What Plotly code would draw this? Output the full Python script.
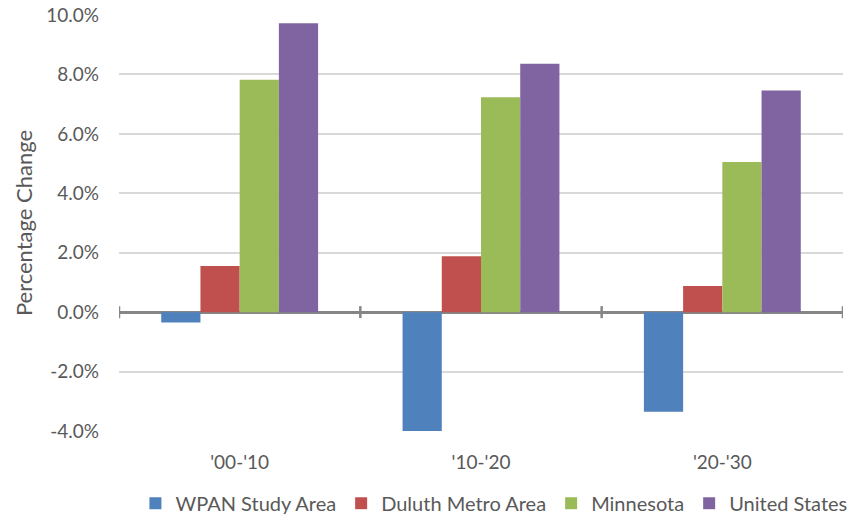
import plotly.graph_objects as go

categories = ["'00-'10", "'10-'20", "'20-'30"]
series_names = ["WPAN Study Area", "Duluth Metro Area", "Minnesota", "United States"]
wpan = [-0.0035, -0.0408, -0.0335]
duluth = [0.0155, 0.0188, 0.0088]
minnesota = [0.0782, 0.0723, 0.0505]
united_states = [0.0972, 0.0836, 0.0746]
y_ticks = [-0.04, -0.02, 0.0, 0.02, 0.04, 0.06, 0.08, 0.10]
y_tick_labels = [f"{v * 100:.1f}%" for v in y_ticks]

colors = ["#4F81BD", "#C0504D", "#9BBB59", "#8064A2"]
series_values = [wpan, duluth, minnesota, united_states]

FONT = "Lato"
TXT = "#595959"

fig = go.Figure()
for name, vals, col in zip(series_names, series_values, colors):
    fig.add_trace(go.Bar(x=categories, y=vals, name=name, marker_color=col,
                         marker_line_width=0))

# category boundary tick marks on the zero axis line
shapes = []
for i in range(len(categories) + 1):
    shapes.append(dict(type="line", xref="x", yref="y", x0=i - 0.5, x1=i - 0.5,
                       ysizemode="pixel", yanchor=0, y0=-6, y1=6,
                       line=dict(color="#868686", width=2.5)))

fig.update_layout(
    width=859, height=514,
    margin=dict(l=119, r=16, t=15, b=83, autoexpand=False),
    paper_bgcolor="white", plot_bgcolor="white",
    barmode="group", bargap=0.35, bargroupgap=0,
    font=dict(family=FONT, size=19, color=TXT),
    shapes=shapes,
    legend=dict(orientation="h", xref="container", yref="container",
                x=0.575, xanchor="center", y=0.021, yanchor="middle",
                font=dict(size=20, color=TXT), itemwidth=30, tracegroupgap=0,
                bgcolor="rgba(0,0,0,0)"),
    xaxis=dict(type="category", range=[-0.5, 2.5], showline=False, showgrid=False,
               ticks="", tickfont=dict(size=19, color=TXT), ticklabelstandoff=18,
               automargin=False, fixedrange=True),
    yaxis=dict(range=[-0.04, 0.10], tickvals=y_ticks, ticktext=y_tick_labels,
               showgrid=True, gridcolor="#D9D9D9", gridwidth=1.5,
               zeroline=True, zerolinecolor="#868686", zerolinewidth=2.5,
               showline=False, ticks="", ticklabelstandoff=19,
               tickfont=dict(size=19, color=TXT), automargin=False, fixedrange=True,
               title=dict(text="Percentage Change", font=dict(size=22, color=TXT), standoff=7)),
)

fig.write_html("out.html", config={"displayModeBar": False},
               post_script="document.body.style.margin='0px';")
